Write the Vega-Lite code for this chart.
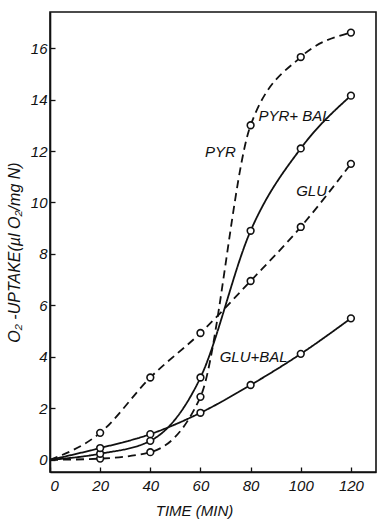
{
  "$schema": "https://vega.github.io/schema/vega-lite/v6.json",
  "width": 326,
  "height": 460,
  "autosize": {"type": "none"},
  "padding": {"left": 50, "top": 12, "right": 2, "bottom": 49},
  "background": "white",
  "config": {
    "view": {"stroke": "#111", "strokeWidth": 1.6},
    "font": "Liberation Sans",
    "axis": {
      "domainColor": "#111", "domainWidth": 1.6,
      "tickColor": "#111", "tickWidth": 1.3,
      "labelColor": "#111", "titleColor": "#111",
      "labelFont": "Liberation Sans", "labelFontStyle": "italic", "labelFontSize": 15,
      "titleFont": "Liberation Sans", "titleFontStyle": "italic", "titleFontWeight": "normal", "titleFontSize": 15,
      "grid": false
    }
  },
  "datasets": {
    "curves": [
      {"series": "PYR", "time": 0, "uptake": 0},
      {"series": "PYR", "time": 20, "uptake": 0.05},
      {"series": "PYR", "time": 40, "uptake": 0.3},
      {"series": "PYR", "time": 60, "uptake": 2.45},
      {"series": "PYR", "time": 80, "uptake": 13.0},
      {"series": "PYR", "time": 100, "uptake": 15.65},
      {"series": "PYR", "time": 120, "uptake": 16.6},
      {"series": "PYR+BAL", "time": 0, "uptake": 0},
      {"series": "PYR+BAL", "time": 20, "uptake": 0.24},
      {"series": "PYR+BAL", "time": 40, "uptake": 0.74},
      {"series": "PYR+BAL", "time": 60, "uptake": 3.2},
      {"series": "PYR+BAL", "time": 80, "uptake": 8.9},
      {"series": "PYR+BAL", "time": 100, "uptake": 12.1},
      {"series": "PYR+BAL", "time": 120, "uptake": 14.15},
      {"series": "GLU", "time": 0, "uptake": 0},
      {"series": "GLU", "time": 20, "uptake": 1.05},
      {"series": "GLU", "time": 40, "uptake": 3.2},
      {"series": "GLU", "time": 60, "uptake": 4.93},
      {"series": "GLU", "time": 80, "uptake": 6.95},
      {"series": "GLU", "time": 100, "uptake": 9.05},
      {"series": "GLU", "time": 120, "uptake": 11.5},
      {"series": "GLU+BAL", "time": 0, "uptake": 0},
      {"series": "GLU+BAL", "time": 20, "uptake": 0.46},
      {"series": "GLU+BAL", "time": 40, "uptake": 1.0},
      {"series": "GLU+BAL", "time": 60, "uptake": 1.83},
      {"series": "GLU+BAL", "time": 80, "uptake": 2.91},
      {"series": "GLU+BAL", "time": 100, "uptake": 4.12},
      {"series": "GLU+BAL", "time": 120, "uptake": 5.5}
    ],
    "labels": [
      {"label": "PYR", "time": 68, "uptake": 11.96},
      {"label": "PYR+ BAL", "time": 97.5, "uptake": 13.37},
      {"label": "GLU", "time": 104.3, "uptake": 10.43},
      {"label": "GLU+BAL", "time": 81.2, "uptake": 4.0}
    ]
  },
  "layer": [
    {
      "data": {"name": "curves"},
      "mark": {"type": "line", "interpolate": "monotone", "color": "#111", "strokeWidth": 1.8},
      "encoding": {
        "x": {
          "field": "time", "type": "quantitative",
          "scale": {"domain": [0, 130], "nice": false, "zero": false},
          "axis": {
            "values": [0, 20, 40, 60, 80, 100, 120],
            "tickSize": -5, "labelPadding": 11,
            "title": "TIME  (MIN)", "titleX": 144, "titleY": 38, "titleBaseline": "middle", "titleAlign": "center"
          }
        },
        "y": {
          "field": "uptake", "type": "quantitative",
          "scale": {"domain": [-0.47, 17.4], "nice": false, "zero": false},
          "axis": {
            "values": [0, 1, 2, 3, 4, 5, 6, 7, 8, 9, 10, 11, 12, 13, 14, 15, 16],
            "labelExpr": "datum.value % 2 == 0 ? datum.label : ''",
            "tickSize": -5, "labelPadding": 8,
            "title": "O₂ -UPTAKE(µl O₂/mg N)", "titleFontSize": 16,
            "titleX": -36, "titleY": 240, "titleBaseline": "middle", "titleAlign": "center", "titleAngle": -90
          }
        },
        "detail": {"field": "series"},
        "strokeDash": {
          "field": "series", "type": "nominal",
          "scale": {"domain": ["PYR", "PYR+BAL", "GLU", "GLU+BAL"], "range": [[8, 5], [1, 0], [8, 5], [1, 0]]},
          "legend": null
        }
      }
    },
    {
      "data": {"name": "curves"},
      "transform": [{"filter": "datum.time > 0"}],
      "mark": {"type": "point", "shape": "circle", "size": 45, "filled": false, "fill": "white", "stroke": "#111", "strokeWidth": 1.6, "opacity": 1},
      "encoding": {
        "x": {"field": "time", "type": "quantitative"},
        "y": {"field": "uptake", "type": "quantitative"}
      }
    },
    {
      "data": {"name": "labels"},
      "mark": {"type": "text", "font": "Liberation Sans", "fontStyle": "italic", "fontSize": 15, "color": "#111", "align": "center", "baseline": "middle"},
      "encoding": {
        "x": {"field": "time", "type": "quantitative"},
        "y": {"field": "uptake", "type": "quantitative"},
        "text": {"field": "label"}
      }
    }
  ]
}
